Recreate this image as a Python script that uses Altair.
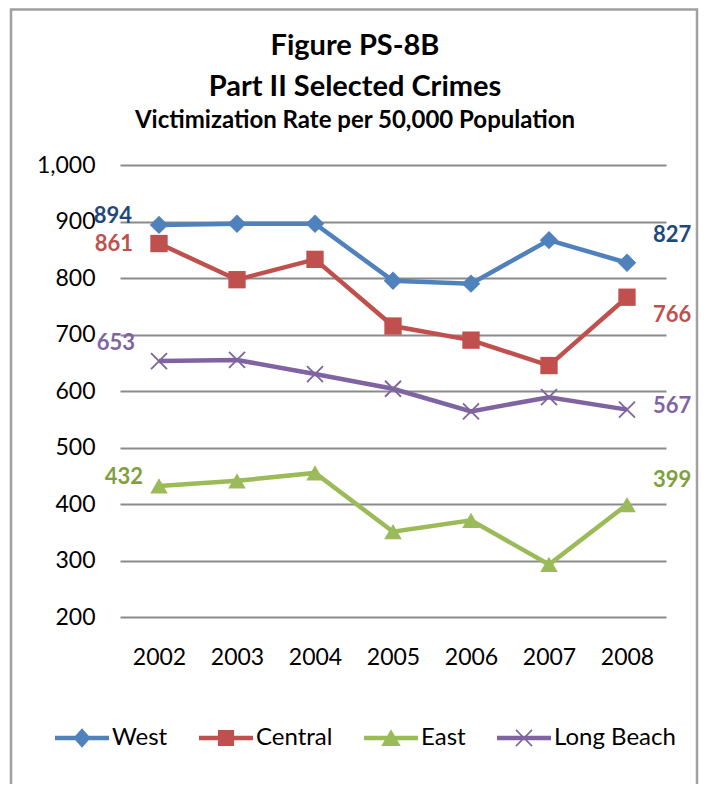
import altair as alt
import pandas as pd

# ---------------- data ----------------
years = ["2002", "2003", "2004", "2005", "2006", "2007", "2008"]
series_names = ["West", "Central", "East", "Long Beach"]
west = [894, 896, 896, 795, 790, 867, 827]
central = [861, 797, 833, 715, 690, 645, 766]
east = [432, 441, 455, 351, 371, 293, 399]
long_beach = [653, 655, 630, 604, 564, 589, 567]
y_ticks = [200, 300, 400, 500, 600, 700, 800, 900, 1000]

line_colors = ["#4F81BD", "#C0504D", "#9BBB59", "#8064A2"]
label_colors = {"West": "#1F497D", "Central": "#C0504D", "East": "#7FA03E", "Long Beach": "#8064A2"}

rows = []
for name, vals in zip(series_names, [west, central, east, long_beach]):
    for yr, v in zip(years, vals):
        rows.append({"year": yr, "series": name, "value": v})
df = pd.DataFrame(rows)

FONT = "Lato"

color_scale = alt.Scale(domain=series_names, range=line_colors)
x_enc = alt.X("year:O", sort=years,
              scale=alt.Scale(type="point", padding=0.5),
              axis=alt.Axis(title=None, labelFontSize=23, labelPadding=29, ticks=False,
                            domain=False, labelAngle=0, labelColor="black", labelFont=FONT,
                            grid=False))
y_enc = alt.Y("value:Q",
              scale=alt.Scale(domain=[200, 1000], nice=False, zero=False),
              axis=alt.Axis(title=None, values=y_ticks, format=",d", labelFontSize=23,
                            labelPadding=25, ticks=False, domain=False, grid=True,
                            gridColor="#8A8A8A", gridWidth=2, labelColor="black",
                            labelFont=FONT))

# legend: line + marker symbols (all sub-paths same winding)
line_part = "M-1,-0.085L1,-0.085L1,0.085L-1,0.085Z"
legend_paths = [
    line_part + "M0,-0.36L0.32,0L0,0.36L-0.32,0Z",
    line_part + "M-0.3,-0.3L0.3,-0.3L0.3,0.3L-0.3,0.3Z",
    line_part + "M0,-0.32L0.36,0.3L-0.36,0.3Z",
    line_part + "M-0.28,-0.32L0.32,0.28L0.28,0.32L-0.32,-0.28Z"
              + "M0.28,-0.32L0.32,-0.28L-0.28,0.32L-0.32,0.28Z",
]
legend_props = dict(orient="none", legendX=-65, legendY=546, direction="horizontal",
                    columns=4, title=None, symbolSize=2916)
# invisible layer that only carries the legend (placed first so its legend wins)
legend_layer = alt.Chart(df).mark_point(
    filled=True, size=2916, opacity=0
).encode(
    x=x_enc, y=y_enc,
    color=alt.Color("series:N", scale=color_scale, legend=alt.Legend(**legend_props)),
    shape=alt.Shape("series:N", scale=alt.Scale(domain=series_names, range=legend_paths),
                    legend=alt.Legend(**legend_props)),
)

base = alt.Chart(df).encode(
    x=x_enc, y=y_enc,
    color=alt.Color("series:N", scale=color_scale, legend=alt.Legend(**legend_props)),
)

lines = base.mark_line(strokeWidth=4.5)

# markers
marker_specs = [
    ("West", "diamond", 340, True),
    ("Central", "square", 300, True),
    ("East", "triangle-up", 310, True),
    ("Long Beach", "M-1,-1L1,1M-1,1L1,-1", 256, False),
]
point_layers = []
for name, shp, sz, filled in marker_specs:
    point_layers.append(
        base.transform_filter(alt.datum.series == name).mark_point(
            shape=shp, size=sz, filled=filled, opacity=1, strokeWidth=1.8
        )
    )

# data labels: (series, year, align, dx, dy)
label_specs = [
    ("West", "2002", "right", -27, -9),
    ("Central", "2002", "right", -26, 0),
    ("Long Beach", "2002", "right", -24, -18),
    ("East", "2002", "right", -16, -9),
    ("West", "2008", "left", 26, -28),
    ("Central", "2008", "left", 26, 18),
    ("Long Beach", "2008", "left", 26, -4),
    ("East", "2008", "left", 26, -25),
]
label_layers = []
for name, yr, al, dx, dy in label_specs:
    label_layers.append(
        alt.Chart(df).transform_filter(
            (alt.datum.series == name) & (alt.datum.year == yr)
        ).mark_text(
            align=al, baseline="middle", dx=dx, dy=dy, fontSize=22,
            fontWeight="bold", font=FONT, color=label_colors[name]
        ).encode(x=x_enc, y=y_enc, text=alt.Text("value:Q", format="d"))
    )

# outer chart frame
frame = alt.Chart(pd.DataFrame({"f": [0]})).mark_rect(
    fillOpacity=0, stroke="#A0A0A0", strokeWidth=2.5
).encode(
    x=alt.value(-109), x2=alt.value(577), y=alt.value(-155.5), y2=alt.value(640)
)

chart = alt.layer(legend_layer, frame, lines, *point_layers, *label_layers).properties(
    width=546,
    height=452,
    autosize=alt.AutoSizeParams(type="none"),
    padding={"left": 112, "top": 157, "right": 33, "bottom": 167},
    title=alt.TitleParams(
        text=["Figure PS-8B", "Part II Selected Crimes"],
        subtitle="Victimization Rate per 50,000 Population",
        fontSize=29, font=FONT, fontWeight="bold", color="black", lineHeight=41,
        subtitleFont=FONT, subtitleFontSize=24, subtitleFontWeight="bold",
        subtitleColor="black", subtitlePadding=7,
        anchor="middle", frame="group", dx=-38, offset=-125,
    ),
).configure_view(stroke=None).configure_legend(
    labelFont=FONT, labelFontSize=24, labelColor="black", labelOffset=3,
    columnPadding=31, symbolStrokeWidth=0, symbolOpacity=1, symbolSize=2916,
)

chart.save("out.html", embed_options={"renderer": "svg", "actions": False})
